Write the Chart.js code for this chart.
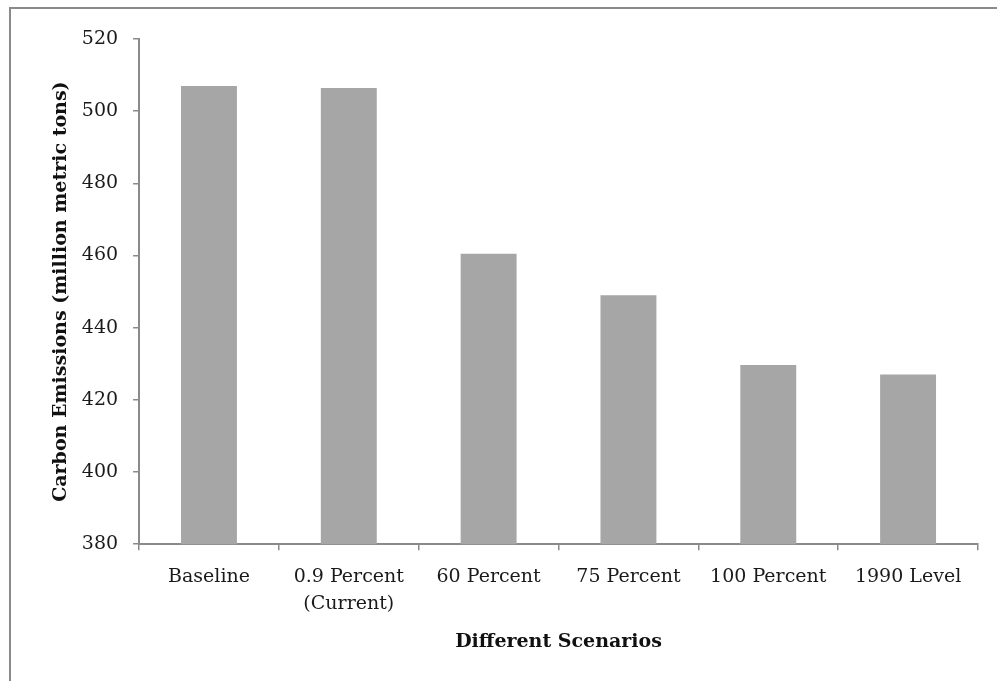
<!DOCTYPE html>
<html>
<head>
<meta charset="utf-8">
<script src="https://cdn.jsdelivr.net/npm/chart.js@4"></script>
<style>
  html, body { margin: 0; padding: 0; background: #fff; }
  #wrap { position: relative; width: 997px; height: 681px; overflow: hidden; }
  #frame { position: absolute; left: 9px; top: 7px; width: 1000px; height: 700px;
           border-top: 2px solid #8a8a8a; border-left: 2px solid #8a8a8a; }
  canvas { position: absolute; left: 0; top: 0; }
</style>
</head>
<body>
<div id="wrap">
  <div id="frame"></div>
  <canvas id="emissionsChart" width="997" height="681"></canvas>
</div>
<script>
// Scenario categories and emissions (million metric tons)
const scenarios = ['Baseline', ['0.9 Percent', '(Current)'], '60 Percent', '75 Percent', '100 Percent', '1990 Level'];
const emissions = [507.0, 506.4, 460.5, 449.0, 429.7, 427.0];
const yTicks = { min: 380, max: 520, step: 20 };

const serif = "'DejaVu Serif', serif";
const axisGray = '#8a8a8a';

const ctx = document.getElementById('emissionsChart').getContext('2d');
new Chart(ctx, {
  type: 'bar',
  data: {
    labels: scenarios,
    datasets: [{
      label: 'Carbon Emissions',
      data: emissions,
      backgroundColor: '#a6a6a6',
      borderWidth: 0,
      categoryPercentage: 1,
      barPercentage: 0.4
    }]
  },
  options: {
    responsive: false,
    animation: false,
    layout: { padding: { left: 46, right: 19, top: 39, bottom: 28 } },
    plugins: { legend: { display: false }, tooltip: { enabled: false } },
    scales: {
      x: {
        grid: { drawOnChartArea: false, drawTicks: true, tickLength: 6, color: axisGray, lineWidth: 1.5 },
        border: { color: axisGray, width: 2 },
        ticks: { color: '#1a1a1a', font: { family: serif, size: 19, lineHeight: 1.42 }, padding: 13, maxRotation: 0, autoSkip: false },
        title: { display: true, text: 'Different Scenarios', color: '#111', font: { family: serif, size: 19, weight: 'bold' }, padding: { top: 0, bottom: 0 } }
      },
      y: {
        min: yTicks.min,
        max: yTicks.max,
        grid: { drawOnChartArea: false, drawTicks: true, tickLength: 6, color: axisGray, lineWidth: 1.5 },
        border: { color: axisGray, width: 2 },
        ticks: { stepSize: yTicks.step, color: '#1a1a1a', font: { family: serif, size: 19 }, padding: 15 },
        title: { display: true, text: 'Carbon Emissions (million metric tons)', color: '#111', font: { family: serif, size: 19, weight: 'bold' }, padding: { top: 4, bottom: -6 } }
      }
    }
  }
});
</script>
</body>
</html>
